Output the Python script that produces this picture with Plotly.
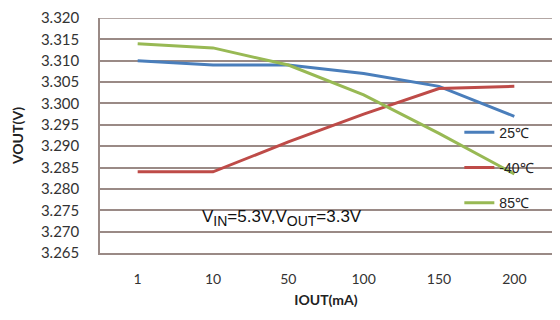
import plotly.graph_objects as go

categories = ["1", "10", "50", "100", "150", "200"]
v_25 = [3.310, 3.309, 3.309, 3.307, 3.304, 3.297]
v_m40 = [3.284, 3.284, 3.291, 3.2975, 3.3035, 3.304]
v_85 = [3.314, 3.313, 3.309, 3.302, 3.293, 3.2835]
series_names = ["25\u2103", "-40\u2103", "85\u2103"]
y_ticks = [3.265, 3.270, 3.275, 3.280, 3.285, 3.290, 3.295, 3.300, 3.305, 3.310, 3.315, 3.320]

colors = ["#4A7EBB", "#BE4B48", "#98B954"]
grid = "#9A8A86"

fig = go.Figure()
for i, (name, vals) in enumerate(zip(series_names, [v_25, v_m40, v_85])):
    fig.add_trace(go.Scatter(x=categories, y=vals, mode="lines", name=name,
                             legendgroup=f"g{i}",
                             line=dict(color=colors[i], width=3)))

fig.update_layout(
    width=560, height=320,
    margin=dict(l=100, r=8, t=18, b=67),
    paper_bgcolor="white", plot_bgcolor="white",
    showlegend=True,
    legend=dict(x=0.795, y=0.58, xanchor="left", yanchor="top",
                bgcolor="rgba(0,0,0,0)", tracegroupgap=14,
                font=dict(family="Liberation Sans, Arial", size=14, color="#222")),
    xaxis=dict(type="category", range=[-0.5, 5.5], showgrid=False,
               showline=True, linecolor=grid, linewidth=1.5,
               ticks="outside", ticklen=12, tickcolor="rgba(0,0,0,0)",
               tickfont=dict(family="Lato, Open Sans", size=14, color="#333"),
               title=dict(text="<b>IOUT(mA)</b>", standoff=10,
                          font=dict(family="Lato, Open Sans", size=14, color="#222"))),
    yaxis=dict(range=[3.265, 3.320], tickvals=y_ticks, tickformat=".3f",
               showgrid=True, gridcolor=grid, gridwidth=1.5,
               showline=True, linecolor=grid, linewidth=1.5, mirror=False,
               ticks="outside", ticklen=16, tickcolor="rgba(0,0,0,0)",
               zeroline=False,
               tickfont=dict(family="Lato, Open Sans", size=15, color="#333"),
               title=dict(text="<b>VOUT(V)</b>", standoff=14,
                          font=dict(family="Lato, Open Sans", size=14, color="#222"))),
)
fig.add_shape(type="line", xref="paper", yref="y", x0=0, x1=1, y0=3.320, y1=3.320,
              line=dict(color=grid, width=1.5))

fig.add_annotation(x=0.83, y=3.2732, xref="x", yref="y", xanchor="left", yanchor="middle",
                   showarrow=False,
                   text="V<sub><span style='font-size:14px'>IN</span></sub>=5.3V,V<sub><span style='font-size:14px'>OUT</span></sub>=3.3V",
                   font=dict(family="Liberation Sans, Arial", size=17, color="#111"))

fig.write_html("out.html")
